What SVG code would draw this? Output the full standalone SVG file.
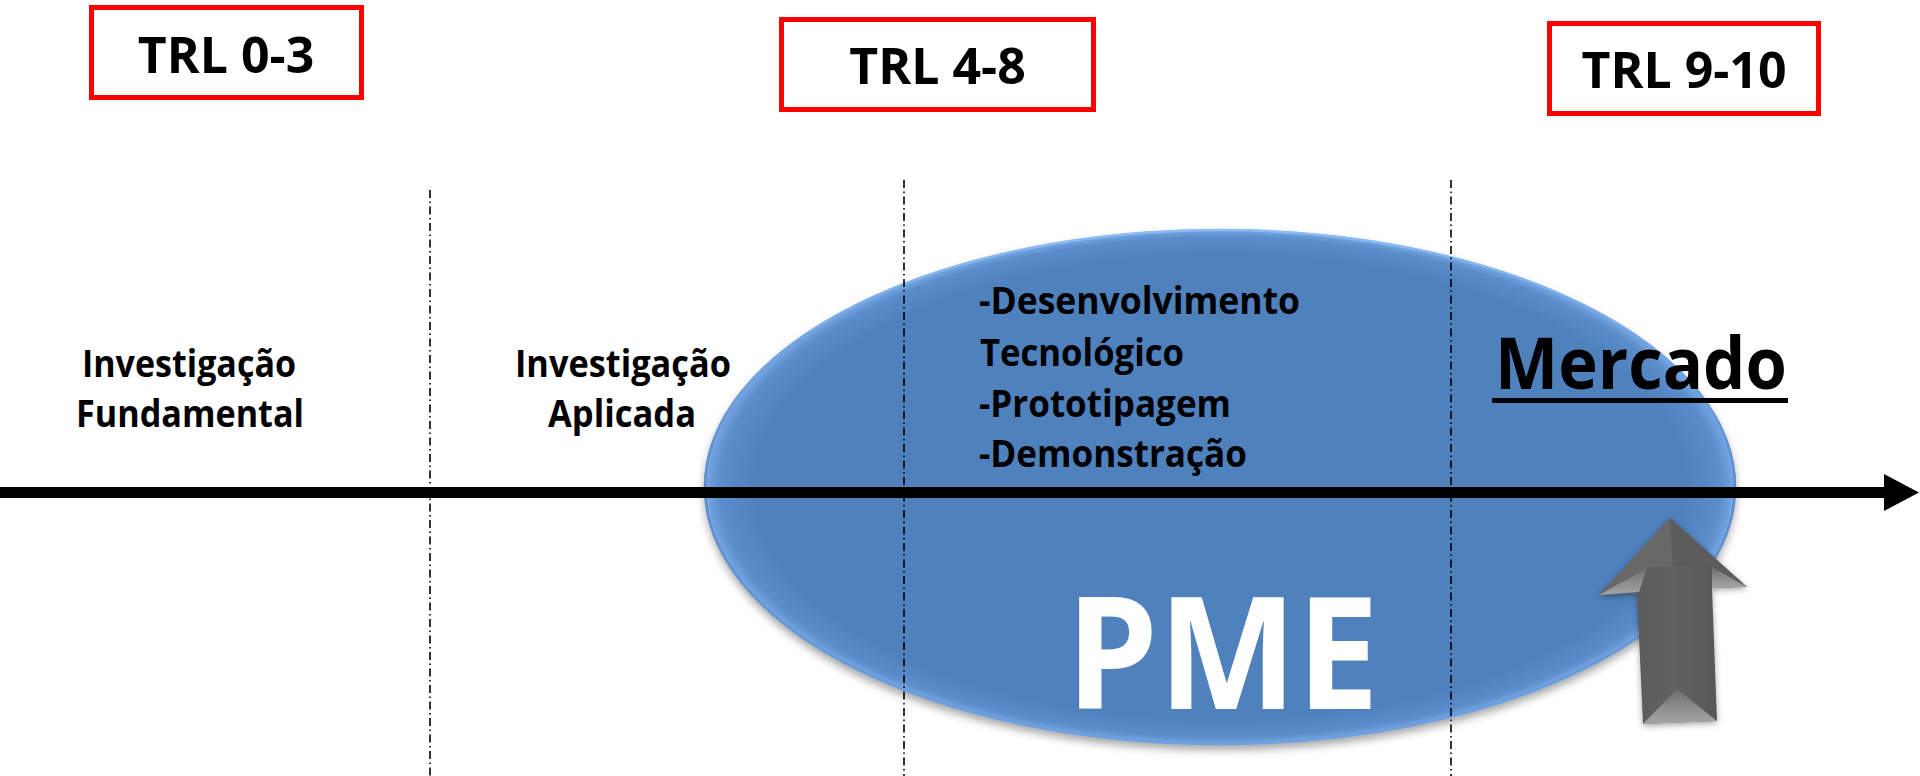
<svg xmlns="http://www.w3.org/2000/svg" width="1920" height="776" viewBox="0 0 1920 776">
<defs>
<style>
.lbl{font-family:"Open Sans","Noto Sans","Liberation Sans",sans-serif;font-weight:bold;fill:#000}
.trl{font-size:50px;text-anchor:middle}
.mid{font-size:38px}
.box{fill:#fff;stroke:#ff0000;stroke-width:5}
.sep{stroke:#000;stroke-width:1.6;stroke-dasharray:8 3.5 1.5 3.5;fill:none}
</style>
<radialGradient id="ellG" cx="0.5" cy="0.5" r="0.5">
<stop offset="0" stop-color="#4f81bd"/>
<stop offset="0.9" stop-color="#4f81bd"/>
<stop offset="0.97" stop-color="#5b8dcb"/>
<stop offset="1" stop-color="#7aaae6"/>
</radialGradient>
<linearGradient id="rimG" x1="0" y1="0" x2="0" y2="1">
<stop offset="0" stop-color="#8cbcf4"/>
<stop offset="0.5" stop-color="#5a8ccb"/>
<stop offset="1" stop-color="#6f9fdc"/>
</linearGradient>
<linearGradient id="shaftG" x1="0" y1="0" x2="1" y2="0">
<stop offset="0" stop-color="#545454"/>
<stop offset="0.5" stop-color="#626262"/>
<stop offset="1" stop-color="#505050"/>
</linearGradient>
<linearGradient id="bevG" x1="0" y1="0" x2="0" y2="1">
<stop offset="0" stop-color="#6e6e6e"/>
<stop offset="1" stop-color="#a6a6a6"/>
</linearGradient>
<filter id="shadow" x="-10%" y="-10%" width="120%" height="130%">
<feDropShadow dx="0" dy="5" stdDeviation="4" flood-color="#000" flood-opacity="0.35"/>
</filter>
<filter id="ashadow" x="-30%" y="-20%" width="160%" height="140%">
<feDropShadow dx="0" dy="2" stdDeviation="3" flood-color="#000" flood-opacity="0.35"/>
</filter>
</defs>
<rect width="1920" height="776" fill="#fff"/>

<g id="pme">
<ellipse cx="1220" cy="487" rx="516" ry="258" fill="url(#ellG)" filter="url(#shadow)"/>
<ellipse cx="1220" cy="487" rx="515" ry="257" fill="none" stroke="url(#rimG)" stroke-width="2.5"/>
<text class="lbl" x="1066" y="709" font-size="157" textLength="313" lengthAdjust="spacingAndGlyphs" style="fill:#fff">PME</text>
</g>

<g id="separators">
<line class="sep" x1="430" y1="190" x2="430" y2="776"/>
<line class="sep" x1="904" y1="180" x2="904" y2="776"/>
<line class="sep" x1="1451" y1="180" x2="1451" y2="776"/>
</g>

<g id="trl03">
<rect class="box" x="91.5" y="7.5" width="270" height="90"/>
<text class="lbl trl" x="226" y="73">TRL 0-3</text>
</g>
<g id="trl48">
<rect class="box" x="781.5" y="19.5" width="312" height="90"/>
<text class="lbl trl" x="937.5" y="84">TRL 4-8</text>
</g>
<g id="trl910">
<rect class="box" x="1549.5" y="23.5" width="269" height="90"/>
<text class="lbl trl" x="1684" y="88">TRL 9-10</text>
</g>

<g id="fundamental">
<text class="lbl mid" x="82" y="377" textLength="214" lengthAdjust="spacingAndGlyphs">Investigação</text>
<text class="lbl mid" x="76" y="427" textLength="228" lengthAdjust="spacingAndGlyphs">Fundamental</text>
</g>
<g id="aplicada">
<text class="lbl mid" x="515" y="377" textLength="216" lengthAdjust="spacingAndGlyphs">Investigação</text>
<text class="lbl mid" x="548" y="427" textLength="148" lengthAdjust="spacingAndGlyphs">Aplicada</text>
</g>
<g id="desenvolvimento">
<text class="lbl mid" x="979" y="314" textLength="321" lengthAdjust="spacingAndGlyphs">-Desenvolvimento</text>
<text class="lbl mid" x="980" y="366" textLength="204" lengthAdjust="spacingAndGlyphs">Tecnológico</text>
<text class="lbl mid" x="979" y="417" textLength="252" lengthAdjust="spacingAndGlyphs">-Prototipagem</text>
<text class="lbl mid" x="979" y="467" textLength="268" lengthAdjust="spacingAndGlyphs">-Demonstração</text>
</g>
<g id="mercado">
<text class="lbl" x="1495" y="389" font-size="71" textLength="292" lengthAdjust="spacingAndGlyphs">Mercado</text>
<rect x="1492" y="398" width="296" height="5" fill="#000"/>
</g>

<g id="connectors">
<rect x="0" y="487" width="1886" height="11" fill="#000"/>
<polygon points="1884,474 1919,492.5 1884,511" fill="#000"/>
<g id="entry-arrow" filter="url(#ashadow)">
<polygon points="1670,518 1747,587 1712,588 1717,721 1643,724 1637,593 1599,595" fill="url(#shaftG)"/>
<polygon points="1670,518 1673,566 1647,568 1599,595" fill="#676767"/>
<polygon points="1670,518 1747,587 1712,567 1673,566" fill="#5c5c5c"/>
<polygon points="1599,595 1647,568 1639,592" fill="url(#bevG)"/>
<polygon points="1747,587 1712,567 1712,588" fill="url(#bevG)"/>
<polygon points="1643,724 1677,689 1717,721" fill="url(#bevG)"/>
</g>
</g>
</svg>
